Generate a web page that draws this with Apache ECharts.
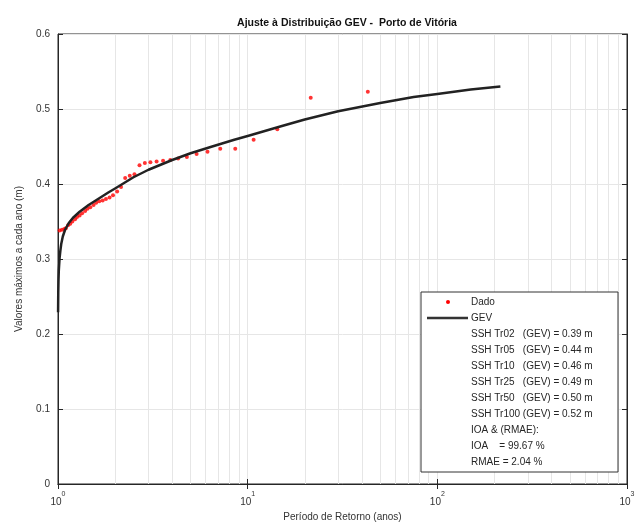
<!DOCTYPE html>
<html>
<head>
<meta charset="utf-8">
<script src="https://cdn.jsdelivr.net/npm/echarts@6/dist/echarts.min.js"></script>
<style>
html,body{margin:0;padding:0;background:#fff;}
#chart{width:639px;height:528px;}
</style>
</head>
<body>
<div id="chart"></div>
<script>
// Observed annual maxima (return period in years, value in m)
const dataT = [43.00, 21.50, 14.33, 10.75, 8.60, 7.17, 6.14, 5.38, 4.78, 4.30, 3.91, 3.58, 3.31, 3.07, 2.87, 2.69, 2.53, 2.39, 2.26, 2.15, 2.05, 1.95, 1.87, 1.79, 1.72, 1.65, 1.59, 1.54, 1.48, 1.43, 1.39, 1.34, 1.30, 1.26, 1.23, 1.19, 1.16, 1.13, 1.10, 1.08, 1.05, 1.02];
const dataSSH = [0.523, 0.515, 0.473, 0.459, 0.447, 0.447, 0.443, 0.440, 0.436, 0.434, 0.432, 0.431, 0.430, 0.429, 0.428, 0.425, 0.413, 0.411, 0.408, 0.396, 0.390, 0.385, 0.382, 0.380, 0.378, 0.377, 0.375, 0.372, 0.369, 0.367, 0.364, 0.361, 0.358, 0.356, 0.353, 0.350, 0.347, 0.345, 0.341, 0.340, 0.339, 0.338];

// Fitted GEV curve
const gevT = [1.001, 1.003, 1.006, 1.01, 1.02, 1.03, 1.04, 1.06, 1.09, 1.14, 1.2, 1.3, 1.45, 1.65, 1.85, 2.0, 2.5, 3.0, 4.0, 5.0, 6.5, 8.5, 10, 15, 20, 30, 50, 75, 100, 150, 215];
const gevSSH = [0.229, 0.255, 0.272, 0.285, 0.302, 0.312, 0.320, 0.330, 0.339, 0.348, 0.355, 0.363, 0.372, 0.381, 0.389, 0.394, 0.409, 0.419, 0.432, 0.441, 0.450, 0.459, 0.464, 0.477, 0.486, 0.497, 0.508, 0.516, 0.520, 0.526, 0.530];

// Axis ticks
const xTicks = [1, 10, 100, 1000];
const xMinorGrid = [2, 3, 4, 5, 6, 7, 8, 9, 20, 30, 40, 50, 60, 70, 80, 90, 200, 300, 400, 500, 600, 700, 800, 900];
const yTicks = [0, 0.1, 0.2, 0.3, 0.4, 0.5, 0.6];

// Legend texts
const legendSeries = ['Dado', 'GEV'];
const returnLabels = ['Tr02  ', 'Tr05  ', 'Tr10  ', 'Tr25  ', 'Tr50  ', 'Tr100'];
const returnValues = ['0.39', '0.44', '0.46', '0.49', '0.50', '0.52'];
const statLines = ['IOA & (RMAE):', 'IOA    = 99.67 %', 'RMAE = 2.04 %'];

const FONT = '"Liberation Sans", Arial, sans-serif';
const AX = '#262626';
const GRID = '#e6e6e6';

const chart = echarts.init(document.getElementById('chart'), null, {renderer: 'canvas'});

const scatterData = dataT.map((t, i) => [t, dataSSH[i]]);
const gevData = gevT.map((t, i) => [t, gevSSH[i]]);

const lgX = 421, lgY = 292, lgW = 197, lgH = 180, rowH = 16, row0 = 302, txtX = 471;
const legendRows = [];
legendSeries.forEach(s => legendRows.push(s));
returnLabels.forEach((l, i) => legendRows.push('SSH ' + l + ' (GEV) = ' + returnValues[i] + ' m'));
statLines.forEach(s => legendRows.push(s));

const graphics = [
  {type: 'rect', shape: {x: lgX, y: lgY, width: lgW, height: lgH}, style: {fill: '#fff', stroke: '#333', lineWidth: 1}, z: 100},
  {type: 'circle', shape: {cx: 448, cy: row0, r: 2}, style: {fill: '#ff0000'}, z: 101},
  {type: 'line', shape: {x1: 427, y1: row0 + rowH, x2: 468, y2: row0 + rowH}, style: {stroke: '#333', lineWidth: 2.5}, z: 101}
];
legendRows.forEach((t, i) => {
  graphics.push({type: 'text', x: txtX, y: row0 + i * rowH, z: 101,
    style: {text: t, font: '10px ' + FONT, fill: '#262626', verticalAlign: 'middle', align: 'left'}});
});

const option = {
  animation: false,
  backgroundColor: '#fff',
  title: {
    text: 'Ajuste à Distribuição GEV -  Porto de Vitória',
    left: 342, top: 13, textAlign: 'center',
    textStyle: {fontFamily: FONT, fontSize: 10.5, fontWeight: 'bold', color: '#111'}
  },
  grid: {left: 58, right: 12, top: 34, bottom: 44, show: true, borderColor: AX, borderWidth: 1, backgroundColor: 'transparent'},
  xAxis: [{
    type: 'log', logBase: 10, min: 1, max: 1000,
    axisLine: {lineStyle: {color: AX}},
    axisTick: {inside: true, length: 5, lineStyle: {color: AX}},
    splitLine: {show: true, lineStyle: {color: GRID, width: 1}},
    axisLabel: {
      margin: 7, color: '#333',
      formatter: v => '{b|10}{s|' + Math.round(Math.log10(v)) + '}',
      rich: {
        b: {fontFamily: FONT, fontSize: 10, color: '#333', lineHeight: 16, verticalAlign: 'bottom'},
        s: {fontFamily: FONT, fontSize: 7, color: '#333', lineHeight: 16, verticalAlign: 'top'}
      }
    },
    name: 'Período de Retorno (anos)', nameLocation: 'middle', nameGap: 28,
    nameTextStyle: {fontFamily: FONT, fontSize: 10, color: '#333'}
  }, {
    type: 'log', logBase: 10, min: 1, max: 1000, position: 'top',
    axisLine: {lineStyle: {color: AX}},
    axisTick: {inside: true, length: 5, lineStyle: {color: AX}},
    axisLabel: {show: false}, splitLine: {show: false}
  }],
  yAxis: [{
    type: 'value', min: 0, max: 0.6, interval: 0.1,
    axisLine: {show: true, lineStyle: {color: AX}},
    axisTick: {show: true, inside: true, length: 5, lineStyle: {color: AX}},
    splitLine: {show: true, lineStyle: {color: GRID, width: 1}},
    axisLabel: {
      margin: 8, fontFamily: FONT, fontSize: 10, color: '#333',
      formatter: v => {
        const idx = yTicks.findIndex(t => Math.abs(t - v) < 1e-9);
        return idx === 0 ? '0' : yTicks[idx].toFixed(1);
      }
    },
    name: 'Valores máximos a cada ano (m)', nameLocation: 'middle', nameGap: 34,
    nameTextStyle: {fontFamily: FONT, fontSize: 10, color: '#333'}
  }, {
    type: 'value', min: 0, max: 0.6, interval: 0.1, position: 'right',
    axisLine: {show: true, lineStyle: {color: AX}},
    axisTick: {show: true, inside: true, length: 5, lineStyle: {color: AX}},
    axisLabel: {show: false}, splitLine: {show: false}
  }],
  series: [{
    name: legendSeries[0], type: 'scatter', xAxisIndex: 0, yAxisIndex: 0, z: 3,
    symbol: 'circle', symbolSize: 4,
    itemStyle: {color: '#ff0000'},
    data: scatterData,
    markLine: {
      silent: true, symbol: 'none', z: 1, label: {show: false}, animation: false,
      lineStyle: {color: GRID, width: 1, type: 'solid'},
      data: xMinorGrid.map(v => ({xAxis: v}))
    }
  }, {
    name: legendSeries[1], type: 'line', xAxisIndex: 0, yAxisIndex: 0, z: 4,
    showSymbol: false, symbol: 'none', smooth: false,
    lineStyle: {color: '#222', width: 2.5, join: 'round'},
    data: gevData
  }],
  graphic: graphics
};
chart.setOption(option);
</script>
</body>
</html>
